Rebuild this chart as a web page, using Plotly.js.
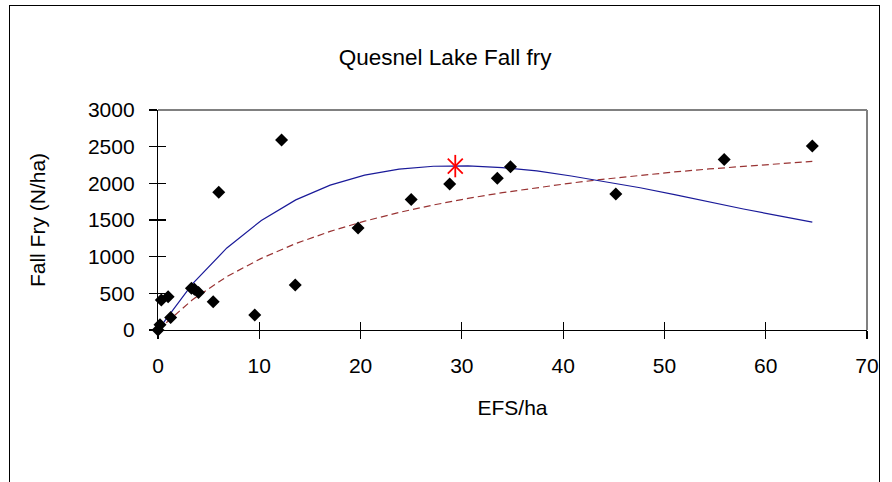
<!DOCTYPE html>
<html>
<head>
<meta charset="utf-8">
<script src="https://cdn.plot.ly/plotly-3.0.1.min.js"></script>
<style>
  html, body { margin: 0; padding: 0; background: #fff; }
  #wrap { position: relative; width: 892px; height: 482px; }
  #chart { width: 892px; height: 482px; }
  #frame { position: absolute; left: 9px; top: 5px; width: 869px; height: 490px; border: 1px solid #000; pointer-events: none; }
</style>
</head>
<body>
<div id="wrap"><div id="chart"></div><div id="frame"></div></div>
<script>
// Observed fall fry density vs. effective female spawners per hectare
const efs = [0, 0.2, 0.33, 1.0, 1.25, 3.3, 3.6, 4.0, 5.45, 6.0, 9.55, 12.2, 13.55, 19.75, 25.0, 28.8, 33.5, 34.8, 45.2, 55.9, 64.6];
const fry = [0, 70, 410, 455, 170, 570, 555, 510, 385, 1880, 205, 2590, 615, 1390, 1780, 1990, 2070, 2225, 1855, 2325, 2510];

// Fitted curves
const curveX = [0, 3.4, 6.8, 10.2, 13.6, 17.0, 20.4, 23.8, 27.2, 30.6, 34.0, 37.4, 40.8, 44.2, 47.6, 51.0, 54.4, 57.8, 61.2, 64.6];
const rickerY = [0, 628, 1119, 1494, 1774, 1976, 2112, 2194, 2233, 2238, 2214, 2170, 2100, 2025, 1940, 1845, 1745, 1650, 1560, 1470];
const bhY = [0, 413, 729, 977, 1179, 1345, 1484, 1603, 1705, 1795, 1873, 1942, 2004, 2059, 2109, 2155, 2196, 2234, 2269, 2300];

// Peak marker
const starX = [29.35];
const starY = [2235];

const xTicks = [0, 10, 20, 30, 40, 50, 60, 70];
const yTicks = [0, 500, 1000, 1500, 2000, 2500, 3000];

const FONT = 'Liberation Sans, Arial, sans-serif';

const traces = [
  { x: curveX, y: bhY, mode: 'lines', type: 'scatter',
    line: { color: '#993333', width: 1.2, dash: '7px,4px' }, hoverinfo: 'skip' },
  { x: curveX, y: rickerY, mode: 'lines', type: 'scatter',
    line: { color: '#1a1a99', width: 1.2 }, hoverinfo: 'skip' },
  { x: efs, y: fry, mode: 'markers', type: 'scatter', cliponaxis: false,
    marker: { symbol: 'diamond', size: 10, color: '#000', line: { width: 0 } } },
  { x: starX, y: starY, mode: 'markers', type: 'scatter',
    marker: { symbol: 'x-thin-open', size: 15, color: '#ff0000', line: { color: '#ff0000', width: 1.8 } } },
  { x: starX, y: starY, mode: 'markers', type: 'scatter',
    marker: { symbol: 'line-ns-open', size: 16, color: '#ff0000', line: { color: '#ff0000', width: 1.8 } } },
  // inside half of crossing ticks
  { x: [], y: [], xaxis: 'x2', yaxis: 'y2', type: 'scatter' }
];

const axisCommon = {
  showgrid: false, zeroline: false, showline: true, linecolor: '#000', linewidth: 1.2,
  ticks: 'outside', ticklen: 8, tickcolor: '#000', tickwidth: 1.2,
  tickfont: { family: FONT, size: 21, color: '#000' }
};

const layout = {
  width: 892, height: 482,
  margin: { l: 158, r: 25, t: 110, b: 152 },
  paper_bgcolor: '#fff', plot_bgcolor: '#fff',
  showlegend: false,
  title: { text: 'Quesnel Lake Fall fry', font: { family: FONT, size: 22.5, color: '#000' },
           xref: 'container', x: 0.499, xanchor: 'center', yref: 'container', y: 1 - 57 / 482, yanchor: 'middle' },
  xaxis: Object.assign({}, axisCommon, {
    range: [0, 70], tickvals: xTicks, ticklabelstandoff: 9,
    title: { text: 'EFS/ha', font: { family: FONT, size: 21, color: '#000' }, standoff: 23 }
  }),
  yaxis: Object.assign({}, axisCommon, {
    range: [0, 3000], tickvals: yTicks, ticklabelstandoff: 10,
    title: { text: 'Fall Fry (N/ha)', font: { family: FONT, size: 21, color: '#000' }, standoff: 36 }
  }),
  xaxis2: { overlaying: 'x', range: [0, 70], tickvals: xTicks, ticks: 'inside', ticklen: 8, tickcolor: '#000', tickwidth: 1.2,
            showticklabels: false, showgrid: false, zeroline: false, showline: false, anchor: 'y2' },
  yaxis2: { overlaying: 'y', range: [0, 3000], tickvals: yTicks, ticks: 'inside', ticklen: 8, tickcolor: '#000', tickwidth: 1.2,
            showticklabels: false, showgrid: false, zeroline: false, showline: false, anchor: 'x2' },
  shapes: [
    { type: 'line', xref: 'paper', yref: 'paper', x0: 0, x1: 1, y0: 1, y1: 1, line: { color: '#808080', width: 2 } },
    { type: 'line', xref: 'paper', yref: 'paper', x0: 1, x1: 1, y0: 0, y1: 1, line: { color: '#808080', width: 2 } }
  ]
};

Plotly.newPlot('chart', traces, layout, { displayModeBar: false, staticPlot: true });
</script>
</body>
</html>
